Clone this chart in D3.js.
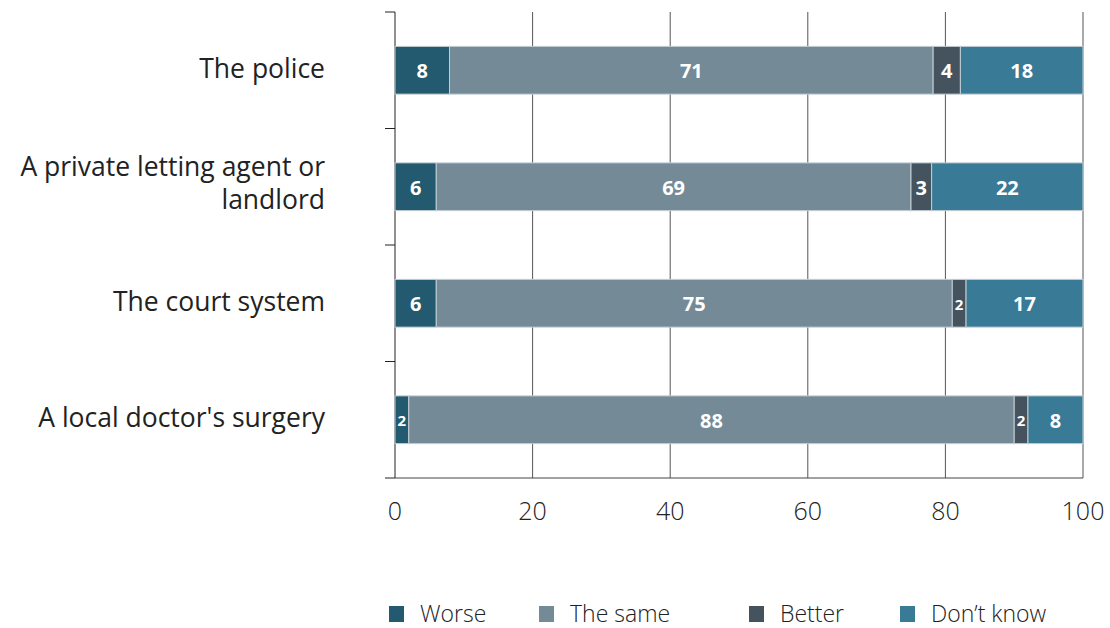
<!DOCTYPE html>
<html><head><meta charset="utf-8">
<script src="https://cdn.jsdelivr.net/npm/d3@7"></script>
<style>
body{margin:0;background:#fff;}
text{font-family:"Open Sans","Noto Sans",sans-serif;}
</style></head>
<body><svg id="c" width="1110" height="628"></svg>
<script>
const categories = ["The police","A private letting agent or landlord","The court system","A local doctor's surgery"];
const categoryLines = [["The police"],["A private letting agent or","landlord"],["The court system"],["A local doctor's surgery"]];
const seriesNames = ["Worse","The same","Better","Don\u2019t know"];
const worse   = [8, 6, 6, 2];
const same    = [71, 69, 75, 88];
const better  = [4, 3, 2, 2];
const dontKnow= [18, 22, 17, 8];
const xTicks = [0,20,40,60,80,100];
const colors = ["#235a6f","#748b97","#44535e","#397a96"];

const rows = categories.map((c,i)=>({cat:c, "Worse":worse[i], "The same":same[i], "Better":better[i], "Don\u2019t know":dontKnow[i]}));
const stack = d3.stack().keys(seriesNames).offset(d3.stackOffsetExpand)(rows);

const svg = d3.select("#c");
const x = d3.scaleLinear().domain([0,100]).range([395,1083]);
const y = d3.scaleBand().domain(categories).range([12,478]).paddingInner(0.59).paddingOuter(0.295);
const yb = d3.scaleBand().domain(categories).range([12,478]);

// gridlines
svg.append("g").selectAll("line").data(xTicks).join("line")
  .attr("x1",d=>x(d)).attr("x2",d=>x(d)).attr("y1",12).attr("y2",478)
  .attr("stroke",d=>d===0?"#222":"#555").attr("stroke-width",1);

// y axis ticks (band boundaries)
const bounds = categories.map(c=>yb(c)).concat([478]);
svg.append("g").selectAll("line").data(bounds).join("line")
  .attr("x1",385).attr("x2",395).attr("y1",d=>d).attr("y2",d=>d)
  .attr("stroke","#222");
svg.append("line").attr("x1",395).attr("x2",1083).attr("y1",478).attr("y2",478).attr("stroke","#444");

// x tick labels
svg.append("g").selectAll("text").data(xTicks).join("text")
  .attr("x",d=>x(d)).attr("y",511).attr("dy","0.35em").attr("text-anchor","middle")
  .attr("font-size",25).attr("font-weight",300).attr("fill","#222")
  .text(d=>d);

// bars
const g = svg.append("g");
stack.forEach((s,si)=>{
  g.selectAll(null).data(s).join("rect")
    .attr("x",d=>x(d[0]*100)).attr("width",d=>x(d[1]*100)-x(d[0]*100))
    .attr("y",d=>y(d.data.cat)).attr("height",y.bandwidth())
    .attr("fill",colors[si]).attr("stroke","#c3ced5").attr("stroke-width",1);
  g.selectAll(null).data(s).join("text")
    .attr("x",d=>(x(d[0]*100)+x(d[1]*100))/2)
    .attr("y",d=>y(d.data.cat)+y.bandwidth()/2+1)
    .attr("dy","0.35em").attr("text-anchor","middle")
    .attr("fill","#fff").attr("font-weight",700)
    .attr("font-size",d=>(d.data[s.key]<=2?15:20))
    .text(d=>d.data[s.key]);
});

// category labels
categories.forEach((c,i)=>{
  const lines = categoryLines[i];
  const lh = 33;
  const cy = yb(c)+yb.bandwidth()/2 - 2 - (lines.length-1)*1.5;
  lines.forEach((l,j)=>{
    svg.append("text").attr("text-anchor","end").attr("font-size",26.5).attr("fill","#222")
      .attr("x",325).attr("y",cy + (j-(lines.length-1)/2)*lh).attr("dy","0.35em").text(l);
  });
});

// legend
const legX = [389,539,749,900];
const lg = svg.append("g");
seriesNames.forEach((n,i)=>{
  lg.append("rect").attr("x",legX[i]).attr("y",606).attr("width",15).attr("height",16).attr("fill",colors[i]);
  lg.append("text").attr("x",legX[i]+31).attr("y",614).attr("dy","0.35em")
    .attr("font-size",23).attr("font-weight",300).attr("fill","#222").text(n);
});
</script></body></html>
